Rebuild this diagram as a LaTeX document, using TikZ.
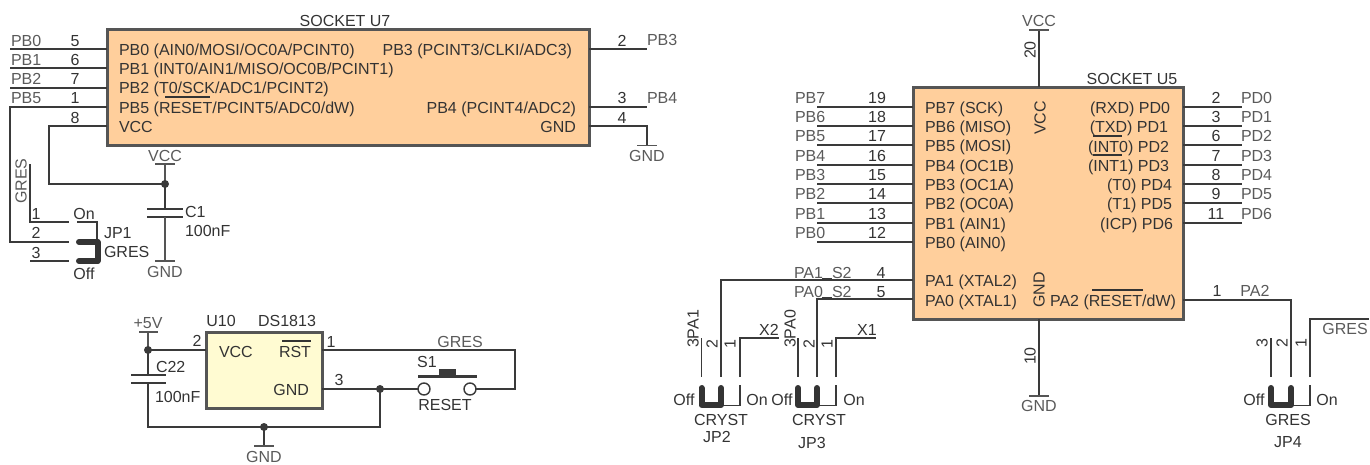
\documentclass[tikz,border=0pt]{standalone}
\usepackage{fontspec}
\setmainfont{Liberation Sans}
\definecolor{wire}{HTML}{3A3A3A}
\definecolor{edge}{HTML}{555555}
\definecolor{lab}{HTML}{5A5A5A}
\definecolor{ink}{HTML}{333333}
\definecolor{chip}{HTML}{FFCF9C}
\definecolor{chipy}{HTML}{FFFBD2}
\newcounter{lbl}
\newcommand{\TXT}[5]{\stepcounter{lbl}\node[name=t\thelbl,txt,text=#1,#2] at ({#3},{#4+6.2}) {#5};}
% dark text
\newcommand{\TL}[3]{\TXT{ink}{anchor=base west}{#1}{#2}{#3}}
\newcommand{\TC}[3]{\TXT{ink}{anchor=base}{#1}{#2}{#3}}
\newcommand{\TR}[3]{\TXT{ink}{anchor=base east}{#1}{#2}{#3}}
% grey net labels
\newcommand{\GL}[3]{\TXT{lab}{anchor=base west}{#1}{#2}{#3}}
\newcommand{\GC}[3]{\TXT{lab}{anchor=base}{#1}{#2}{#3}}
% rotated
\newcommand{\RV}[4]{\stepcounter{lbl}\node[name=t\thelbl,txt,text=#1,rotate=90,anchor=base] at ({#2+5.7},{#3}) {#4};}
\tikzset{
 txt/.style={inner sep=0pt,outer sep=0pt,font=\fontsize{16}{18}\selectfont},
 wr/.style={draw=wire,line width=1.4pt,line join=miter},
 thin wr/.style={draw=wire,line width=1.1pt},
 jump/.style={draw=wire!90!black,line width=6pt,line cap=round,line join=round},
 chipbox/.style={draw=edge,line width=3pt,fill=chip,line join=miter},
 chipyel/.style={draw=edge,line width=3pt,fill=chipy,line join=miter},
 pwr/.style={draw=edge,line width=1.4pt},
 dot/.style={circle,fill=wire,inner sep=0pt,minimum size=8pt},
 ovl/.style={draw=ink,line width=1.3pt},
 pad/.style={circle,draw=wire,line width=1.4pt,fill=white,inner sep=0pt,minimum size=12pt},
}
\begin{document}
\begin{tikzpicture}[x=1pt,y=-1pt]
\useasboundingbox (0,0) rectangle (1370,464);
% chips
\path[chipbox] (107,29) rectangle (589,145) coordinate (u7se);
\path[chipbox] (913,87) rectangle (1183,319);
\path[chipyel] (206,332) rectangle (322,408);
\coordinate (u7) at (107,29); \coordinate (u5) at (913,87);
% ---------- U7 wires
\foreach \y in {49,68,88} \draw[wr] (10,\y) -- (107,\y);
\draw[wr] (107,107) -- (10,107) -- (10,242) -- (69,242);
\coordinate (j1) at (165,184);
\draw[wr] (107,126) -- (49,126) -- (49,184) -- (j1);
\draw[wr] (589,49) -- (647,49);
\draw[wr] (589,107) -- (647,107);
\draw[wr] (589,126) -- (647,126) -- (647,145);
\draw[pwr] (637,145.5) -- (657,145.5);
% VCC + C1
\draw[pwr] (155,164) -- (175,164);
\draw[pwr] (165,164) -- (j1);
\draw[wr] (j1) -- (165,209);
\draw[wr] (147,209) -- (183,209);
\draw[wr] (147,217) -- (183,217);
\draw[pwr] (165,217) -- (165,261);
\draw[pwr] (155,261) -- (175,261);
\node[dot,name=d1] at (j1) {};
% JP1
\draw[wr] (30,164) -- (30,222) -- (69,222);
\draw[wr] (30,261) -- (69,261);
\draw[thin wr] (77,222) -- (97,222) -- (97,242);
\draw[jump] (79,242) -- (97.5,242) -- (97.5,261) -- (79,261);
% ---------- U10
\coordinate (j2) at (148,350);
\coordinate (j3) at (380,389);
\coordinate (j4) at (264,427);
\draw[pwr] (139,332) -- (158,332);
\draw[pwr] (148,332) -- (j2);
\draw[wr] (j2) -- (206,350);
\draw[wr] (j2) -- (148,375);
\draw[wr] (131,375) -- (166,375);
\draw[wr] (131,383) -- (166,383);
\draw[wr] (148,383) -- (148,427) -- (380,427) -- (j3);
\draw[wr] (322,389) -- (418,389);
\draw[wr] (322,350) -- (515,350) -- (515,389) -- (476,389);
\draw[wr] (j4) -- (264,446);
\draw[pwr] (254,446) -- (274,446);
\node[dot,name=d2] at (j2) {};
\node[dot,name=d3] at (j3) {};
\node[dot,name=d4] at (j4) {};
\node[pad,name=p1] at (424,389) {};
\node[pad,name=p2] at (470,389) {};
\draw[draw=wire,line width=3pt] (418,376) -- (477,376);
\fill[wire] (439,369) rectangle (456,376);
% ---------- U5 wires
\foreach \y in {107,126,145,165,184,203,223,242} \draw[wr] (817,\y) -- (913,\y);
\foreach \y in {107,126,145,165,184,203,223} \draw[wr] (1183,\y) -- (1242,\y);
\draw[wr] (1039,30) -- (1039,87);
\draw[pwr] (1029,30) -- (1049,30);
\draw[wr] (1039,319) -- (1039,396);
\draw[pwr] (1029,396) -- (1049,396);
\draw[wr] (913,280) -- (721,280) -- (721,377);
\draw[wr] (913,299) -- (817,299) -- (817,377);
\draw[draw=wire,line width=2.4pt] (822,279.5) -- (832,279.5);
\draw[draw=wire,line width=2.4pt] (822,298.5) -- (832,298.5);
\draw[wr] (1183,300) -- (1291,300) -- (1291,377);
% JP2
\draw[wr] (701.5,338) -- (701.5,377);
\draw[wr] (740,377) -- (740,338) -- (779,338);
\draw[thin wr] (721,405.5) -- (740,405.5) -- (740,385);
\draw[jump] (701.5,388) -- (701.5,405) -- (721,405) -- (721,388);
% JP3
\draw[wr] (798,338) -- (798,377);
\draw[wr] (836,377) -- (836,338) -- (876,338);
\draw[thin wr] (817,405.5) -- (836,405.5) -- (836,385);
\draw[jump] (798,388) -- (798,405) -- (817,405) -- (817,388);
% JP4
\draw[wr] (1271,338) -- (1271,377);
\draw[wr] (1310,377) -- (1310,319) -- (1369,319);
\draw[thin wr] (1291,405.5) -- (1310,405.5) -- (1310,385);
\draw[jump] (1271,388) -- (1271,405) -- (1291,405) -- (1291,388);
% ---------- overlines
\draw[ovl] (165,97) -- (210,97);
\draw[ovl] (1093,136) -- (1122,136);
\draw[ovl] (1093,155) -- (1122,155);
\draw[ovl] (1092,290) -- (1143,290);
\draw[ovl] (282,341) -- (311,341);
% ---------- U7 texts
\TC{345}{20}{SOCKET U7}
\TL{119}{49}{PB0 (AIN0/MOSI/OC0A/PCINT0)}
\TL{119}{68}{PB1 (INT0/AIN1/MISO/OC0B/PCINT1)}
\TL{119}{87}{PB2 (T0/SCK/ADC1/PCINT2)}
\TL{119}{107}{PB5 (RESET/PCINT5/ADC0/dW)}
\TL{119}{126}{VCC}
\TR{572}{49}{PB3 (PCINT3/CLKI/ADC3)}
\TR{576}{107}{PB4 (PCINT4/ADC2)}
\TR{576}{126}{GND}
\GL{11}{40}{PB0}\GL{11}{59}{PB1}\GL{11}{78}{PB2}\GL{11}{97}{PB5}
\TC{75}{40}{5}\TC{75}{59}{6}\TC{75}{78}{7}\TC{75}{97}{1}\TC{75}{117}{8}
\TC{622}{40}{2}\TC{622}{97}{3}\TC{622}{117}{4}
\GL{647}{39}{PB3}\GL{647}{97}{PB4}
\GC{647}{155}{GND}
\GC{165}{155}{VCC}
\GC{165}{271}{GND}
\TL{185}{211}{C1}
\TL{185}{230}{100nF}
\RV{lab}{21}{181}{GRES}
\TC{36}{213}{1}\TC{36}{232}{2}\TC{36}{252}{3}
\TC{84}{213}{On}\TC{84}{273}{Off}
\TL{104}{232}{JP1}\TL{104}{251}{GRES}
% ---------- U10 texts
\GC{148}{322}{+5V}
\TC{221}{320}{U10}\TC{287}{320}{DS1813}
\TL{219}{351}{VCC}
\TR{311}{351}{RST}\TR{309}{389}{GND}
\TC{197}{340}{2}\TC{331}{341}{1}\TC{339}{379}{3}
\TL{156}{366}{C22}\TL{155}{396}{100nF}
\TC{427}{361}{S1}\TC{445}{404}{RESET}
\GC{460}{341}{GRES}
\GC{264}{456}{GND}
% ---------- U5 texts
\TC{1132}{78}{SOCKET U5}
\GC{1039}{20}{VCC}
\RV{ink}{1030}{50}{20}
\RV{ink}{1040}{118}{VCC}
\RV{ink}{1039}{290}{GND}
\RV{ink}{1030}{356}{10}
\GC{1039}{405}{GND}
\foreach \y/\n/\t/\p in {97/PB7/SCK/19,116/PB6/MISO/18,135/PB5/MOSI/17,155/PB4/OC1B/16,174/PB3/OC1A/15,193/PB2/OC0A/14,213/PB1/AIN1/13,232/PB0/AIN0/12}{
  \GL{795}{\y}{\n}
  \TC{877}{\y}{\p}
  \TL{925}{\y+10}{\n\ (\t)}
}
\TR{1170}{107}{(RXD) PD0}
\TR{1168}{126}{(TXD) PD1}
\TR{1169}{146}{(INT0) PD2}
\TR{1169}{165}{(INT1) PD3}
\TR{1172}{184}{(T0) PD4}
\TR{1172}{203}{(T1) PD5}
\TR{1173}{223}{(ICP) PD6}
\foreach \y/\n/\p in {97/PD0/2,116/PD1/3,135/PD2/6,155/PD3/7,174/PD4/8,193/PD5/9,213/PD6/11}{
  \TC{1216}{\y}{\p}
  \GL{1241}{\y}{\n}
}
\TL{925}{280}{PA1 (XTAL2)}
\TL{925}{300}{PA0 (XTAL1)}
\TR{1176}{300}{PA2 (RESET/dW)}
\GL{794}{272}{PA1}\GL{794}{291}{PA0}
\GL{832}{272}{S2}\GL{832}{291}{S2}
\TC{881}{272}{4}\TC{881}{291}{5}
\TC{1217}{290}{1}\GC{1255}{290}{PA2}
% jumpers labels
\RV{ink}{693}{329}{3PA1}\RV{ink}{712}{344}{2}\RV{ink}{730}{344}{1}
\TC{769}{329}{X2}
\TC{684}{399}{Off}\TC{757}{399}{On}
\TC{721}{419}{CRYST}\TC{717}{436}{JP2}
\RV{ink}{790}{329}{3PA0}\RV{ink}{809}{344}{2}\RV{ink}{827}{344}{1}
\TC{867}{329}{X1}
\TC{782}{399}{Off}\TC{854}{399}{On}
\TC{819}{419}{CRYST}\TC{812}{442}{JP3}
\RV{ink}{1262}{343}{3}\RV{ink}{1282}{343}{2}\RV{ink}{1301}{343}{1}
\TC{1254}{399}{Off}\TC{1327}{399}{On}
\TC{1288}{419}{GRES}\TC{1288}{441}{JP4}
\GC{1345}{328}{GRES}
\end{tikzpicture}
\end{document}
